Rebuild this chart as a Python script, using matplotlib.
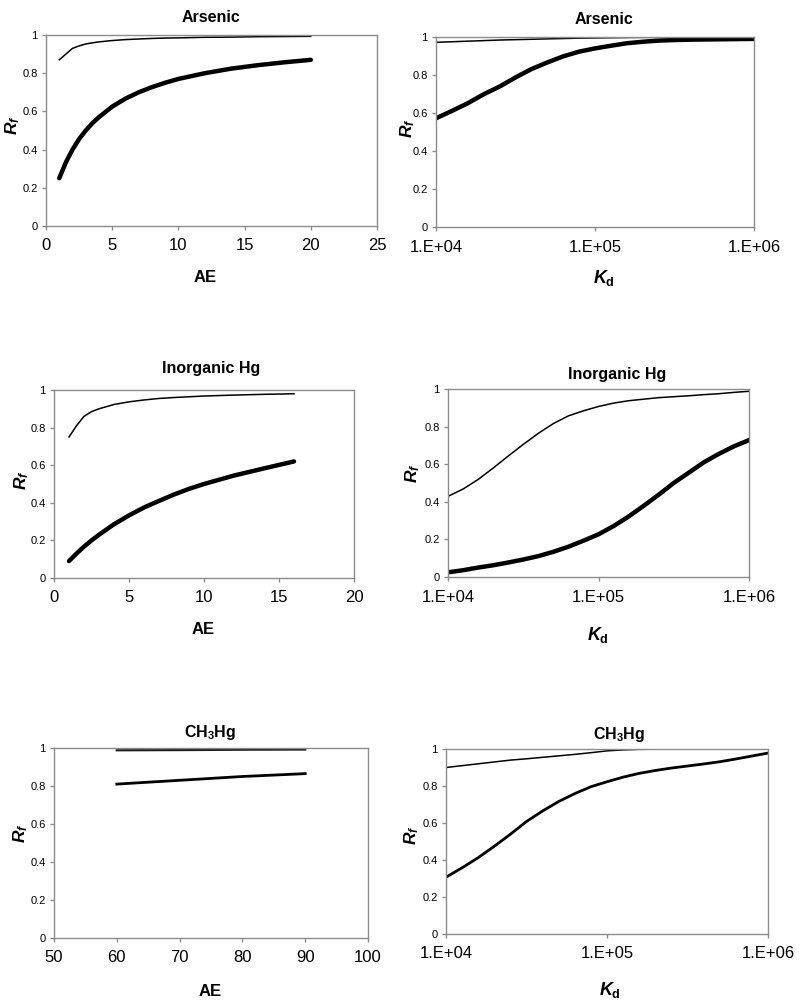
import numpy as np
import matplotlib.pyplot as plt
from matplotlib.ticker import FixedLocator, FixedFormatter

plt.rcParams['font.family'] = ['Liberation Sans', 'DejaVu Sans']
plt.rcParams['mathtext.fontset'] = 'custom'
plt.rcParams['mathtext.rm'] = 'Liberation Sans:bold'
plt.rcParams['mathtext.it'] = 'Liberation Sans:italic:bold'
plt.rcParams['mathtext.bf'] = 'Liberation Sans:bold'

# AE panels
as_ae = [1, 1.5, 2, 2.5, 3, 3.5, 4, 5, 6, 7, 8, 9, 10, 12, 14, 16, 18, 20]
as_ae_thin = [0.87, 0.90, 0.93, 0.943, 0.953, 0.959, 0.964, 0.971, 0.976, 0.979, 0.982, 0.984, 0.985,
              0.988, 0.989, 0.991, 0.992, 0.993]
as_ae_thick = [0.25, 0.333, 0.40, 0.455, 0.50, 0.538, 0.57, 0.625, 0.667, 0.70, 0.727, 0.75, 0.77,
               0.80, 0.824, 0.842, 0.857, 0.87]

hg_ae = [1, 1.5, 2, 2.5, 3, 4, 5, 6, 7, 8, 9, 10, 12, 14, 16]
hg_ae_thin = [0.75, 0.81, 0.86, 0.885, 0.90, 0.923, 0.937, 0.947, 0.955, 0.96, 0.964, 0.968, 0.973, 0.977, 0.98]
hg_ae_thick = [0.09, 0.13, 0.167, 0.20, 0.23, 0.286, 0.333, 0.375, 0.41, 0.444, 0.474, 0.50, 0.545, 0.583, 0.62]

me_ae = [60, 70, 80, 90]
me_ae_thin = [0.988, 0.989, 0.991, 0.992]
me_ae_thick = [0.81, 0.83, 0.85, 0.865]

# Kd panels
kd = [1.0e4, 1.26e4, 1.58e4, 2.0e4, 2.51e4, 3.16e4, 3.98e4, 5.01e4, 6.31e4, 7.94e4,
      1.0e5, 1.26e5, 1.58e5, 2.0e5, 2.51e5, 3.16e5, 3.98e5, 5.01e5, 6.31e5, 7.94e5, 1.0e6]
as_kd_thin = [0.972, 0.975, 0.978, 0.981, 0.984, 0.986, 0.988, 0.990, 0.992, 0.994, 0.995,
              0.996, 0.997, 0.998, 0.998, 0.998, 0.998, 0.998, 0.998, 0.998, 0.998]
as_kd_thick = [0.572, 0.611, 0.651, 0.699, 0.739, 0.787, 0.831, 0.866, 0.898, 0.923, 0.940,
               0.954, 0.967, 0.975, 0.981, 0.984, 0.986, 0.987, 0.988, 0.989, 0.990]
hg_kd_thin = [0.429, 0.468, 0.518, 0.58, 0.643, 0.705, 0.764, 0.816, 0.857, 0.884, 0.907,
              0.925, 0.9375, 0.946, 0.954, 0.959, 0.964, 0.97, 0.975, 0.982, 0.988]
hg_kd_thick = [0.025, 0.036, 0.05, 0.0625, 0.077, 0.093, 0.111, 0.134, 0.161, 0.193, 0.227,
               0.271, 0.321, 0.379, 0.4375, 0.5, 0.555, 0.61, 0.655, 0.695, 0.728]
me_kd_thin = [0.90, 0.91, 0.92, 0.93, 0.94, 0.947, 0.955, 0.963, 0.971, 0.98, 0.99,
              0.995, 0.998, 0.999, 0.999, 0.999, 0.999, 0.999, 0.999, 0.999, 0.999]
me_kd_thick = [0.307, 0.358, 0.412, 0.475, 0.539, 0.608, 0.665, 0.716, 0.759, 0.796, 0.823,
               0.848, 0.868, 0.884, 0.897, 0.908, 0.919, 0.931, 0.946, 0.962, 0.978]

kd_ticks = [1e4, 1e5, 1e6]
kd_labels = ['1.E+04', '1.E+05', '1.E+06']

W, H = 800, 1008
fig = plt.figure(figsize=(8, 10.08), dpi=100)


def make_ax(l, r, t, b):
    ax = fig.add_axes([l / W, (H - b) / H, (r - l) / W, (b - t) / H])
    for s in ax.spines.values():
        s.set_color('#8c8c8c')
        s.set_linewidth(1.0)
    ax.tick_params(axis='both', direction='out', length=3, color='#8c8c8c', width=1)
    ax.tick_params(axis='y', labelsize=8, pad=3)
    ax.tick_params(axis='x', labelsize=12, pad=6)
    ax.set_ylim(0, 1)
    ax.set_yticks([0, 0.2, 0.4, 0.6, 0.8, 1])
    ax.set_yticklabels(['0', '0.2', '0.4', '0.6', '0.8', '1'])
    return ax


def ftext(x, y, s, **kw):
    fig.text(x / W, 1 - y / H, s, ha='center', va='center', **kw)


def kd_axis(ax):
    ax.set_xscale('log')
    ax.set_xlim(1e4, 1e6)
    ax.xaxis.set_major_locator(FixedLocator(kd_ticks))
    ax.xaxis.set_major_formatter(FixedFormatter(kd_labels))
    ax.xaxis.set_minor_locator(FixedLocator([]))


# top left
ax = make_ax(46, 377, 35, 226)
ax.plot(as_ae, as_ae_thin, color='black', lw=1.1)
ax.plot(as_ae, as_ae_thick, color='black', lw=3.2, solid_capstyle='round')
ax.set_xlim(0, 25)
ax.set_xticks([0, 5, 10, 15, 20, 25])
ftext(211, 18, 'Arsenic', fontsize=11.5, fontweight='bold')
ftext(205, 278, 'AE', fontsize=12, fontweight='bold')
ftext(13, 125, r'$R_f$', fontsize=12.5, rotation=90)

# top right
ax = make_ax(436, 754, 37, 227)
ax.plot(kd, as_kd_thin, color='black', lw=1.1)
ax.plot(kd, as_kd_thick, color='black', lw=3.2)
kd_axis(ax)
ftext(604, 20, 'Arsenic', fontsize=11.5, fontweight='bold')
ftext(604, 278, r'$K_{\mathbf{d}}$', fontsize=13)
ftext(408, 128, r'$R_f$', fontsize=12.5, rotation=90)

# middle left
ax = make_ax(54, 354, 390, 578)
ax.plot(hg_ae, hg_ae_thin, color='black', lw=1.1)
ax.plot(hg_ae, hg_ae_thick, color='black', lw=3.2, solid_capstyle='round')
ax.set_xlim(0, 20)
ax.set_xticks([0, 5, 10, 15, 20])
ftext(211, 368, 'Inorganic Hg', fontsize=11.5, fontweight='bold')
ftext(203, 630, 'AE', fontsize=12, fontweight='bold')
ftext(22, 480, r'$R_f$', fontsize=12.5, rotation=90)

# middle right
ax = make_ax(448, 749, 389, 577)
ax.plot(kd, hg_kd_thin, color='black', lw=1.1)
ax.plot(kd, hg_kd_thick, color='black', lw=3.2)
kd_axis(ax)
ftext(617, 374, 'Inorganic Hg', fontsize=11.5, fontweight='bold')
ftext(598, 635, r'$K_{\mathbf{d}}$', fontsize=13)
ftext(413, 473, r'$R_f$', fontsize=12.5, rotation=90)

# bottom left
ax = make_ax(54, 368, 748, 938)
ax.plot(me_ae, me_ae_thin, color='#202020', lw=1.6)
ax.plot(me_ae, me_ae_thick, color='black', lw=2.0)
ax.set_xlim(50, 100)
ax.set_xticks([50, 60, 70, 80, 90, 100])
ftext(210, 733, r'CH$_\mathbf{3}$Hg', fontsize=11.5, fontweight='bold')
ftext(210, 992, 'AE', fontsize=12, fontweight='bold')
ftext(21, 833, r'$R_f$', fontsize=12.5, rotation=90)

# bottom right
ax = make_ax(446, 768, 749, 934)
ax.plot(kd, me_kd_thin, color='black', lw=1.1)
ax.plot(kd, me_kd_thick, color='black', lw=2.0)
kd_axis(ax)
ftext(619, 735, r'CH$_\mathbf{3}$Hg', fontsize=11.5, fontweight='bold')
ftext(610, 990, r'$K_{\mathbf{d}}$', fontsize=13)
ftext(412, 835, r'$R_f$', fontsize=12.5, rotation=90)

fig.savefig('out.png', dpi=100)
